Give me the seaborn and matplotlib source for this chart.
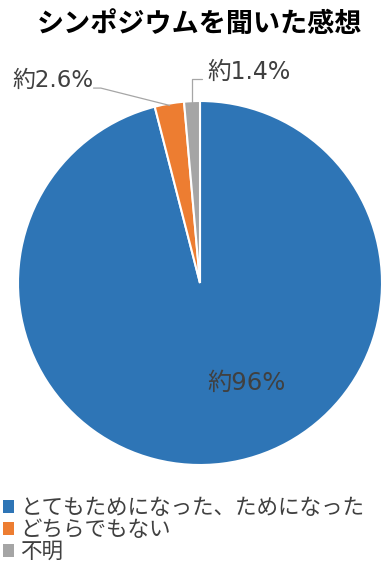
import numpy as np
import matplotlib
matplotlib.use("Agg")
import matplotlib.pyplot as plt
import seaborn as sns
from matplotlib.patches import Patch

categories = ["とてもためになった、ためになった", "どちらでもない", "不明"]
values = [96.0, 2.6, 1.4]
labels = ["約96%", "約2.6%", "約1.4%"]
colors = ["#2E75B6", "#ED7D31", "#A5A5A5"]
title = "シンポジウムを聞いた感想"

sns.set_theme(style="white")
plt.rcParams['font.family'] = ['Noto Sans CJK JP', 'DejaVu Sans']

W, H = 385, 567
fig = plt.figure(figsize=(W / 100, H / 100), dpi=100)
cx, cy, r = 200, 283, 182
ax = fig.add_axes([(cx - r) / W, (H - cy - r) / H, 2 * r / W, 2 * r / H])
wedges, _ = ax.pie(values, colors=colors, startangle=90, counterclock=False,
                   wedgeprops=dict(edgecolor="white", linewidth=1.5), radius=1.0)
ax.set_xlim(-1, 1)
ax.set_ylim(-1, 1)
ax.set_aspect("equal")
ax.axis("off")

tc = "#404040"
lc = "#A6A6A6"
lab_font = ['DejaVu Sans', 'Noto Sans CJK JP']

def mid(w):
    ang = np.deg2rad((w.theta1 + w.theta2) / 2)
    return np.cos(ang), np.sin(ang)

# big slice label
ax.text(0.258, -0.55, labels[0], fontsize=17.5, color=tc, ha="center", va="center",
        family=lab_font)

# orange label with leader line
mx, my = mid(wedges[1])
ax.text(-0.585, 1.115, labels[1], fontsize=16.5, color=tc, ha="right", va="center",
        family=lab_font, clip_on=False)
ax.plot([-0.585, -0.545, mx * 0.99], [1.071, 1.071, my * 0.99], color=lc, lw=0.9,
        clip_on=False)

# grey label with leader line
gx, gy = mid(wedges[2])
ax.text(0.04, 1.16, labels[2], fontsize=17, color=tc, ha="left", va="center",
        family=lab_font, clip_on=False)
ax.plot([0.01, gx, gx], [1.121, 1.121, gy * 0.99], color=lc, lw=0.9, clip_on=False)

fig.text(200 / W, 1 - 24 / H, title, fontsize=19.5, fontweight="bold", color="black",
         ha="center", va="center")

handles = [Patch(facecolor=c, edgecolor="none") for c in colors]
fig.legend(handles, categories, loc="upper left", bbox_to_anchor=(0.0, 1 - 494 / H),
           frameon=False, fontsize=15.5, handlelength=0.5, handleheight=0.5,
           handletextpad=0.3, labelspacing=0.0, borderaxespad=0.0, borderpad=0.15,
           labelcolor=tc)

fig.savefig("out.png", dpi=100)
